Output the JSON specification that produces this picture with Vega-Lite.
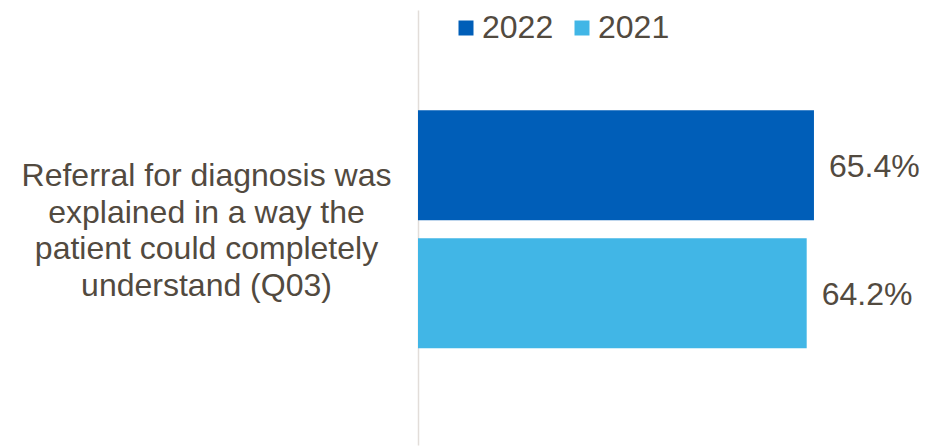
{
  "$schema": "https://vega.github.io/schema/vega-lite/v6.json",
  "autosize": "none",
  "width": 511,
  "height": 435,
  "padding": {"left": 418, "top": 10, "right": 0, "bottom": 2},
  "background": "white",
  "config": {
    "view": {"stroke": null},
    "font": "Liberation Sans"
  },
  "data": {
    "values": [
      {"q": "Referral for diagnosis was|explained in a way the|patient could completely|understand (Q03)", "year": "2022", "value": 0.654},
      {"q": "Referral for diagnosis was|explained in a way the|patient could completely|understand (Q03)", "year": "2021", "value": 0.642}
    ]
  },
  "encoding": {
    "y": {
      "field": "q",
      "type": "nominal",
      "scale": {"paddingInner": 0, "paddingOuter": 0.35, "align": 0.51},
      "axis": {
        "title": null,
        "ticks": false,
        "domain": true,
        "domainColor": "#e2ddd9",
        "domainWidth": 1.5,
        "labelExpr": "split(datum.label, '|')",
        "labelAlign": "center",
        "labelBaseline": "middle",
        "labelPadding": 212,
        "labelOffset": -53,
        "labelFontSize": 32,
        "labelLineHeight": 36.5,
        "labelColor": "#524a3f",
        "labelLimit": 0
      }
    },
    "yOffset": {
      "field": "year",
      "type": "nominal",
      "sort": ["2022", "2021"],
      "scale": {"paddingInner": 0.14, "paddingOuter": 0.07}
    },
    "x": {
      "field": "value",
      "type": "quantitative",
      "scale": {"domain": [0, 0.844], "nice": false, "zero": true},
      "axis": null
    }
  },
  "layer": [
    {
      "mark": {"type": "bar"},
      "encoding": {
        "color": {
          "field": "year",
          "type": "nominal",
          "scale": {"domain": ["2022", "2021"], "range": ["#005eb8", "#41b6e6"]},
          "legend": {
            "title": null,
            "orient": "none",
            "legendX": 32,
            "legendY": 2,
            "direction": "horizontal",
            "symbolType": "square",
            "symbolSize": 225,
            "symbolStrokeWidth": 0,
            "labelFontSize": 32,
            "labelColor": "#524a3f",
            "labelOffset": 0,
            "columnPadding": 12,
            "padding": 0
          }
        }
      }
    },
    {
      "mark": {"type": "text", "align": "left", "baseline": "middle", "dx": 15, "dy": 2, "fontSize": 32, "color": "#524a3f"},
      "encoding": {
        "text": {"field": "value", "type": "quantitative", "format": ".1%"}
      }
    }
  ]
}
